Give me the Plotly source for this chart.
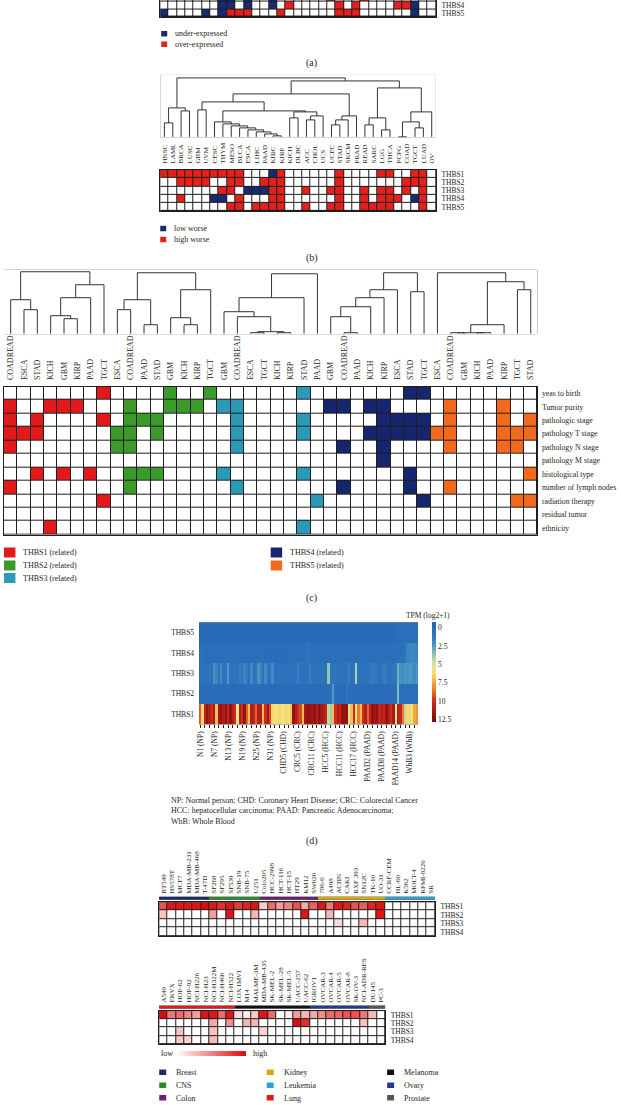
import plotly.graph_objects as go

W, H = 621, 1105
SERIF = "Liberation Serif"
INK = "#231f20"
GRID = "#1e1e1e"
NAVY = "#172a72"
RED = "#e3201b"

# ---------------- data ----------------
# (a) differential expression (1 = under, 2 = over)
a_rows = ["THBS3", "THBS4", "THBS5"]
a_hits = {
    "THBS3": {7: 1, 8: 1, 10: 1, 13: 1, 20: 2, 24: 2},
    "THBS4": {7: 1, 8: 1, 10: 1, 13: 1, 15: 2, 21: 2, 23: 2, 28: 2, 29: 2, 30: 1},
    "THBS5": {0: 1, 5: 1, 7: 1, 8: 2, 9: 2, 10: 2, 14: 2, 21: 2, 22: 2, 23: 2, 30: 1},
}

# (b) survival (1 = low worse, 2 = high worse)
b_cancers = ["HNSC", "LAML", "BRCA", "LUSC", "GBM", "UVM", "CESC", "THYM", "MESO", "BLCA",
             "ESCA", "LIHC", "PAAD", "KIRC", "KIRP", "KICH", "DLBC", "ACC", "CHOL", "UCS",
             "UCEC", "STAD", "SKCM", "PRAD", "READ", "SARC", "LGG", "THCA", "PCPG", "COAD",
             "TGCT", "LUAD", "OV"]
b_genes = ["THBS1", "THBS2", "THBS3", "THBS4", "THBS5"]
b_hits = {
    "THBS1": {0: 2, 1: 2, 2: 2, 3: 2, 4: 2, 5: 2, 6: 2, 7: 2, 8: 2, 9: 2, 13: 1, 14: 2, 21: 2,
              26: 2, 27: 2, 30: 2, 31: 2},
    "THBS2": {2: 2, 3: 2, 4: 2, 5: 2, 8: 2, 9: 2, 12: 2, 13: 2, 14: 2, 21: 2, 29: 2, 30: 2, 31: 2},
    "THBS3": {7: 2, 8: 2, 10: 1, 11: 1, 12: 1, 13: 2, 14: 2, 17: 2, 20: 2, 21: 2, 24: 2, 26: 2,
              27: 2, 29: 2, 31: 2},
    "THBS4": {2: 2, 6: 1, 7: 1, 9: 2, 13: 2, 14: 2, 21: 2, 24: 2, 26: 2, 27: 2, 28: 2, 30: 1, 31: 2},
    "THBS5": {8: 2, 9: 2, 11: 2, 12: 2, 13: 2, 14: 2, 17: 2, 20: 2, 21: 2, 24: 2, 25: 2, 26: 2,
              27: 2, 31: 2},
}
# merges: (left, right, height in px)
b_tree = (((0, 1, 123), (2, 3, 111), 108),
          ((((4, 5, 110),
             ((6, (7, (8, (9, (10, (11, (12, (13, 14, 136), 134), 132), 130), 128), 126), 124), 122),
              ((15, 16, 118), ((17, 18, 120), 19, 116), 112), 111), 102),
            (((20, 21, 125), 22, 120), 23, 116), 94),
           (((24, 25, 125), (26, 27, 130), 118),
            (((28, 29, 137), (30, 31, 128), 122), 32, 112), 88), 81), 78)

# (c) clinical features
c_groups = ["THBS1", "THBS2", "THBS3", "THBS4", "THBS5"]
c_cancers = ["COADREAD", "ESCA", "STAD", "KICH", "GBM", "KIRP", "PAAD", "TGCT",
             "ESCA", "COADREAD", "PAAD", "STAD", "GBM", "KICH", "KIRP", "TGCT",
             "GBM", "COADREAD", "ESCA", "TGCT", "KICH", "KIRP", "STAD", "PAAD",
             "GBM", "COADREAD", "PAAD", "KICH", "KIRP", "ESCA", "STAD", "TGCT",
             "ESCA", "COADREAD", "GBM", "KICH", "PAAD", "KIRP", "TGCT", "STAD"]
c_rows = ["yeas to birth", "Tumor purity", "pathologic stage", "pathology T stage",
          "pathology N stage", "pathology M stage", "histological type",
          "number of lymph nodes", "radiation therapy", "residual tumor", "ethnicity"]
c_hits = [
    [7, 12, 15, 22, 30, 31],
    [0, 3, 4, 5, 9, 12, 13, 14, 16, 17, 24, 25, 27, 28, 33, 37],
    [0, 2, 7, 9, 10, 11, 17, 22, 28, 29, 30, 31, 33, 37, 39],
    [0, 1, 2, 8, 9, 11, 17, 22, 27, 28, 29, 30, 31, 32, 33, 37, 38, 39],
    [0, 8, 9, 17, 25, 28, 33, 37, 38],
    [28],
    [2, 4, 6, 9, 10, 11, 16, 22, 30, 39],
    [0, 9, 17, 25, 30, 33],
    [7, 23, 31, 38, 39],
    [],
    [3, 22],
]
c_trees = [
    ((0, (1, 2, 310), 300), (((3, (4, 5, 319), 316), 6, 298), 7, 285), 272),
    (((8, 9, 310), (10, 11, 325), 300), ((12, (13, 14, 325), 318), 15, 290), 273),
    ((((16, (17, ((18, 19, 333), (20, 21, 333), 332), 317), 312), 22, 298), 23, 274)),
    (((((24, (25, 26, 333), 317), 27, 307), 28, 298), 29, 290), (30, 31, 292), 273),
    (32, (((((33, 34, 333), (35, 36, 333), 333), 37, 325), (38, 39, 290), 282)), 273),
]
c_colors = ["#e31a1c", "#3c9a2b", "#2b9ab6", "#16266e", "#f36a1c"]

# (d) expression, TPM log2(x+1)
d_genes = ["THBS5", "THBS4", "THBS3", "THBS2", "THBS1"]
d_thbs1 = [9.0, 6.5, 10.5, 12.0, 11.0, 10.0, 11.5, 7.0, 11.5, 12.0,
           11.0, 12.0, 10.5, 12.0, 11.0, 10.0, 5.5, 11.0, 10.0, 12.0,
           9.0, 7.0, 11.0, 10.5, 9.0, 11.0, 11.0, 7.0, 10.0, 11.5,
           9.5, 6.5, 6.0, 6.2, 6.5, 5.8, 6.0, 6.5, 6.2, 6.8,
           12.0, 11.0, 10.0, 9.5, 7.0, 11.5, 12.0, 12.0, 11.5, 12.0,
           11.0, 12.0, 11.5, 11.0, 10.5, 4.5, 4.0, 7.0, 10.0, 11.0,
           10.5, 12.0, 12.0, 12.0, 5.0, 7.0, 10.0, 5.5, 8.5, 7.0,
           10.0, 11.0, 9.0, 10.5, 12.0, 11.5, 12.0, 10.5, 11.0, 10.5,
           12.0, 11.0, 10.0, 11.5, 5.5, 11.0, 10.5, 8.5, 4.5, 6.5,
           6.5, 6.0, 7.5, 8.0]
d_thbs2 = [0.3, 0.4, 0.3, 0.3, 0.4, 0.3, 0.5, 0.3, 0.3, 0.4,
           0.3, 0.3, 0.4, 0.3, 0.3, 0.3, 0.4, 0.3, 0.3, 0.3,
           0.4, 0.3, 0.3, 0.3, 0.3, 0.4, 0.3, 0.3, 0.3, 0.3,
           0.3, 0.3, 0.2, 0.2, 0.2, 0.3, 0.2, 0.3, 0.3, 0.3,
           0.4, 0.3, 0.3, 0.3, 0.3, 0.3, 0.4, 0.3, 0.3, 0.3,
           0.3, 0.3, 0.3, 0.4, 0.3, 0.6, 0.5, 2.5, 0.4, 0.3,
           0.3, 0.3, 0.4, 1.2, 0.5, 0.4, 0.3, 0.6, 0.3, 0.3,
           0.3, 0.4, 0.3, 0.3, 0.4, 0.3, 0.3, 0.3, 0.4, 0.3,
           0.3, 0.4, 0.3, 0.3, 0.5, 3.5, 0.6, 0.5, 0.6, 0.5,
           0.5, 0.6, 0.5, 0.5]
d_thbs3 = [0.9, 1.0, 0.9, 0.8, 1.2, 1.0, 2.2, 1.8, 1.0, 2.0,
           1.0, 0.9, 2.5, 1.0, 0.9, 1.2, 1.0, 1.6, 1.0, 1.8,
           1.5, 1.0, 2.0, 1.1, 0.9, 2.2, 1.8, 1.0, 2.0, 1.0,
           0.9, 2.0, 0.8, 0.8, 0.9, 0.8, 0.9, 1.0, 0.9, 0.8,
           0.9, 1.0, 1.6, 0.9, 1.0, 0.9, 1.0, 1.6, 0.9, 1.0,
           0.9, 1.0, 0.9, 1.1, 1.0, 3.8, 1.2, 1.0, 0.9, 1.0,
           1.0, 0.9, 1.0, 1.1, 1.6, 1.0, 1.0, 4.2, 1.0, 0.9,
           1.0, 1.2, 1.0, 1.3, 1.5, 1.4, 1.2, 1.0, 1.1, 1.6,
           1.2, 1.0, 1.1, 1.2, 1.3, 3.0, 2.2, 2.0, 2.4, 2.2,
           2.5, 2.2, 2.0, 2.3]
d_thbs4 = [0.5, 1.0, 0.5, 0.4, 0.5, 0.5, 0.6, 0.5, 0.4, 0.5,
           0.5, 1.0, 0.5, 0.5, 0.4, 0.5, 0.5, 0.6, 0.5, 0.5,
           0.5, 0.4, 0.5, 0.5, 0.5, 0.6, 0.5, 0.5, 0.4, 0.5,
           0.4, 0.4, 0.3, 0.3, 0.3, 0.4, 0.3, 0.4, 0.4, 0.4,
           0.5, 0.5, 0.5, 0.4, 0.5, 0.5, 1.2, 0.5, 0.5, 0.4,
           0.5, 0.5, 0.4, 0.5, 0.5, 0.6, 0.5, 0.7, 0.5, 0.5,
           0.5, 0.4, 0.5, 0.6, 0.5, 0.5, 0.5, 0.6, 0.5, 0.5,
           0.5, 0.5, 0.6, 0.5, 0.5, 0.5, 0.6, 0.5, 0.5, 0.6,
           0.5, 0.6, 0.5, 0.5, 0.7, 0.8, 0.7, 0.8, 1.0, 1.8,
           1.8, 1.9, 1.8, 1.7]
d_thbs5 = [0.1, 0.2, 0.1, 0.1, 0.1, 0.1, 0.2, 0.1, 0.1, 0.1,
           0.1, 0.1, 0.1, 0.1, 0.1, 0.1, 0.1, 0.1, 0.1, 0.1,
           0.1, 0.1, 0.1, 0.1, 0.1, 0.1, 0.1, 0.1, 0.1, 0.1,
           0.1, 0.1, 0.1, 0.1, 0.1, 0.1, 0.1, 0.1, 0.1, 0.1,
           0.1, 0.1, 0.1, 0.1, 0.1, 0.1, 0.1, 0.1, 0.1, 0.1,
           0.1, 0.1, 0.1, 0.1, 0.1, 0.1, 0.1, 0.1, 0.1, 0.1,
           0.1, 0.1, 0.1, 0.1, 0.1, 0.1, 0.1, 0.1, 0.1, 0.1,
           0.1, 0.1, 0.1, 0.1, 0.1, 0.1, 0.1, 0.1, 0.1, 0.1,
           0.1, 0.1, 0.2, 0.2, 0.3, 0.3, 0.4, 0.5, 0.5, 0.6,
           0.6, 0.6, 0.5, 0.6]
d_tick_pos = [0, 6, 12, 18, 24, 30, 36, 42, 48, 54, 60, 66, 72, 78, 84, 90]
d_tick_txt = ["N1 (NP)", "N7 (NP)", "N13 (NP)", "N19 (NP)", "N25 (NP)", "N31 (NP)",
              "CHD5 (CHD)", "CRC5 (CRC)", "CRC11 (CRC)", "HCC5 (HCC)", "HCC11 (HCC)",
              "HCC17 (HCC)", "PAAD2 (PAAD)", "PAAD8 (PAAD)", "PAAD14 (PAAD)", "WhB3 (WhB)"]
d_cb_vals = [0, 2.5, 5, 7.5, 10, 12.5]

# (e) cell lines
tissues = ["Breast", "CNS", "Colon", "Kidney", "Leukemia", "Lung", "Melanoma", "Ovary", "Prostate"]
tissue_colors = ["#1a2a6c", "#2b8a2e", "#6b1f6e", "#d9a90c", "#2aa3d6", "#e31a1c",
                 "#111111", "#1f3a8f", "#555555"]
e1_lines = ["BT549", "HS578T", "MCF7", "MDA-MB-231", "MDA-MB-468", "T-47D",
            "SF268", "SF295", "SF539", "SNB-19", "SNB-75", "U251",
            "Colo205", "HCC-2998", "HCT-116", "HCT-15", "HT29", "KM12", "SW620",
            "786-0", "A498", "ACHN", "CAKI", "RXF 393", "SN12C", "TK-10", "UO-31",
            "CCRF-CEM", "HL-60", "K562", "MOLT-4", "RPMI-8226", "SR"]
e1_tissue = [0] * 6 + [1] * 6 + [2] * 7 + [3] * 8 + [4] * 6
e2_lines = ["A549", "EKVX", "HOP-62", "HOP-92", "NCI-H226", "NCI-H23", "NCI-H322M",
            "NCI-H460", "NCI-H522", "LOX IMVI", "M14", "MALME-3M", "MDA-MB-435",
            "SK-MEL-2", "SK-MEL-28", "SK-MEL-5", "UACC-257", "UACC-62", "IGROV1",
            "OVCAR-3", "OVCAR-4", "OVCAR-5", "OVCAR-8", "SK-OV-3", "NCI-ADR-RES",
            "DU145", "PC-3"]
e2_tissue = [5] * 9 + [6] * 9 + [7] * 7 + [8] * 2
e_genes = ["THBS1", "THBS2", "THBS3", "THBS4"]
e1_thbs1 = [0.7, 0.95, 0.95, 0.95, 0.95, 1.0, 0.95, 0.85, 0.95, 0.8, 0.9, 0.95,
            0.2, 0.6, 0.4, 0.5, 0.7, 0.35, 0.65,
            0.95, 0.55, 0.95, 0.9, 0.7, 0.65, 0.9, 0.95,
            0, 0, 0, 0, 0, 0]
e1_other = {"THBS2": {0: 0.25, 6: 0.4, 8: 0.95, 11: 0.3, 17: 0.95, 20: 0.3, 26: 0.95},
            "THBS3": {21: 0.15, 24: 0.3},
            "THBS4": {}}
e2_thbs1 = [1.0, 0.55, 0.6, 0.5, 0.4, 0.95, 0.95, 0.6, 0.95,
            0.15, 0.08, 0.22, 0.95, 0.6, 0, 0.07, 0.4, 0.3,
            0.35, 0.45, 0.6, 0.62, 0.7, 0.7, 0.55,
            0.28, 0]
e2_other = {"THBS2": {6: 0.35, 8: 0.45, 10: 0.3, 11: 0.3, 16: 1.0, 17: 0.85, 24: 0.25},
            "THBS3": {2: 0.25, 6: 0.25, 12: 0.18},
            "THBS4": {2: 0.22, 3: 0.18, 6: 0.28}}


# ---------------- helpers ----------------
def xdom(x0, x1):
    return [x0 / W, x1 / W]


def ydom(y0, y1):
    return [1 - y1 / H, 1 - y0 / H]


def steps(colors):
    n = len(colors)
    cs = []
    for i, c in enumerate(colors):
        cs += [[i / n, c], [(i + 1) / n, c]]
    return cs


def dendro(node, base, xs, ys):
    if isinstance(node, int):
        return node, base
    left, right, h = node
    xl, hl = dendro(left, base, xs, ys)
    xr, hr = dendro(right, base, xs, ys)
    xs += [xl, xl, xr, xr, None]
    ys += [hl, h, h, hr, None]
    return (xl + xr) / 2, h


def tf(size):
    return dict(family=SERIF, size=size, color=INK)


def ax(dom, rng, **kw):
    d = dict(domain=dom, range=rng, showgrid=False, zeroline=False, ticks="", fixedrange=True)
    d.update(kw)
    return d


fig = go.Figure()
lay = {}
shapes = []
notes = []

# ---------------- (a) ----------------
za = [[a_hits[g].get(k, 0) for k in range(33)] for g in a_rows]
fig.add_trace(go.Heatmap(z=za, x=list(range(33)), y=list(range(3)), colorscale=steps(["white", NAVY, RED]),
                         zmin=-0.5, zmax=2.5, showscale=False, xgap=1, ygap=1, xaxis="x", yaxis="y"))
lay["xaxis"] = ax(xdom(158, 435), [-0.5, 32.5], showticklabels=False, showline=True, linecolor=GRID, anchor="y")
lay["yaxis"] = ax(ydom(0, 17), [2.5, 0.23], tickvals=[1, 2], ticktext=a_rows[1:], side="right",
                  showline=True, mirror=True, linecolor=GRID, tickfont=tf(7.5), anchor="x",
                  ticklabelstandoff=3)

# ---------------- (b) ----------------
xs, ys = [], []
dendro(b_tree, 137, xs, ys)
fig.add_trace(go.Scatter(x=xs, y=ys, mode="lines", line=dict(color="#333333", width=1),
                         xaxis="x2", yaxis="y2", showlegend=False))
lay["xaxis2"] = ax(xdom(158, 435), [-0.5, 32.5], visible=False, anchor="y2")
lay["yaxis2"] = ax(ydom(75, 137.5), [137.5, 75], visible=False, anchor="x2")
shapes.append(dict(type="rect", xref="x2 domain", yref="y2 domain", x0=0, x1=1, y0=0, y1=1,
                   fillcolor="white", line_width=0, layer="below"))

zb = [[b_hits[g].get(k, 0) for k in range(33)] for g in b_genes]
fig.add_trace(go.Heatmap(z=zb, x=list(range(33)), y=list(range(5)), colorscale=steps(["white", NAVY, RED]),
                         zmin=-0.5, zmax=2.5, showscale=False, xgap=1, ygap=1, xaxis="x3", yaxis="y3"))
lay["xaxis3"] = ax(xdom(158, 435), [-0.5, 32.5], side="top", tickangle=-90, tickvals=list(range(33)),
                   ticktext=b_cancers, tickfont=tf(7), showline=True, mirror=True, linecolor=GRID,
                   anchor="y3", ticklabelstandoff=4)
lay["yaxis3"] = ax(ydom(170, 211.5), [4.5, -0.5], tickvals=list(range(5)), ticktext=b_genes, side="right",
                   tickfont=tf(7.5), showline=True, mirror=True, linecolor=GRID, anchor="x3",
                   ticklabelstandoff=3)

# ---------------- (c) ----------------
xs, ys = [], []
for t in c_trees:
    dendro(t, 334, xs, ys)
fig.add_trace(go.Scatter(x=xs, y=ys, mode="lines", line=dict(color="#333333", width=1),
                         xaxis="x4", yaxis="y4", showlegend=False))
lay["xaxis4"] = ax(xdom(1, 537), [-0.5, 39.5], visible=False, anchor="y4")
lay["yaxis4"] = ax(ydom(270, 334.5), [334.5, 270], visible=False, anchor="x4")
shapes.append(dict(type="rect", xref="x4 domain", yref="y4 domain", x0=0, x1=1, y0=0, y1=1,
                   fillcolor="white", line_width=0, layer="below"))

zc = [[(k // 8 + 1) if k in hits else 0 for k in range(40)] for hits in c_hits]
fig.add_trace(go.Heatmap(z=zc, x=list(range(40)), y=list(range(11)), colorscale=steps(["white"] + c_colors),
                         zmin=-0.5, zmax=5.5, showscale=False, xgap=1, ygap=1, xaxis="x5", yaxis="y5"))
lay["xaxis5"] = ax(xdom(1, 537), [-0.5, 39.5], side="top", tickangle=-90, tickvals=list(range(40)),
                   ticktext=c_cancers, tickfont=tf(8), showline=True, mirror=True, linecolor=GRID,
                   anchor="y5", ticklabelstandoff=4)
lay["yaxis5"] = ax(ydom(387, 535), [10.5, -0.5], tickvals=list(range(11)), ticktext=c_rows, side="right",
                   tickfont=tf(7.8), showline=True, mirror=True, linecolor=GRID, anchor="x5",
                   ticklabelstandoff=2)

# ---------------- (d) ----------------
zd = [[-v for v in row] for row in [d_thbs5, d_thbs4, d_thbs3, d_thbs2, d_thbs1]]
vmin, vmax = -0.7, 12.9
stops = [(12.9, "#7a0808"), (12.0, "#931212"), (10.0, "#cf2c1f"), (8.5, "#ec7b2e"), (7.5, "#f4a83e"),
         (6.3, "#f5e07a"), (5.0, "#d6e69c"), (3.6, "#86c2b4"), (2.5, "#4c9bc4"), (1.3, "#2f76be"),
         (-0.7, "#2462b3")]
cs_d = [[(vmax - v) / (vmax - vmin), c] for v, c in stops]
fig.add_trace(go.Heatmap(z=zd, x=list(range(94)), y=list(range(5)), coloraxis="coloraxis",
                         xaxis="x6", yaxis="y6"))
lay["coloraxis"] = dict(colorscale=cs_d, cmin=-vmax, cmax=-vmin,
                        colorbar=dict(x=431 / W, xanchor="left", y=1 - 723 / H, yanchor="bottom",
                                      len=100 / H, lenmode="fraction", thickness=4, xpad=0, ypad=0,
                                      outlinewidth=0, ticks="", tickvals=[-v for v in d_cb_vals],
                                      ticktext=["0", "2.5", "5", "7.5", "10", "12.5"],
                                      tickfont=tf(7.5), ticklabelposition="outside"))
lay["xaxis6"] = ax(xdom(197, 417), [-0.5, 93.5], tickvals=d_tick_pos, ticktext=d_tick_txt,
                   tickangle=-90, tickfont=tf(7.5), ticks="outside", ticklen=3, tickcolor=INK,
                   tickwidth=1, anchor="y6",
                   minor=dict(tickmode="linear", tick0=0, dtick=2, ticks="outside", ticklen=3,
                              tickcolor=INK, showgrid=False))
lay["yaxis6"] = ax(ydom(623, 725), [4.5, -0.5], tickvals=list(range(5)), ticktext=d_genes,
                   tickfont=tf(7.5), anchor="x6", ticklabelstandoff=4)

# ---------------- (e) ----------------
e_scale = [[0, "#ffffff"], [1, "#de0a0a"]]
blocks = [
    (e1_lines, e1_tissue, [e1_thbs1] + [[e1_other[g].get(k, 0) for k in range(33)] for g in e_genes[1:]],
     434, 897.5, 903, 937, "7", "8"),
    (e2_lines, e2_tissue, [e2_thbs1] + [[e2_other[g].get(k, 0) for k in range(27)] for g in e_genes[1:]],
     384, 1006.5, 1012, 1045, "9", "10"),
]
for lines, tis, vals, xr, ys0, gy0, gy1, sa, ga in blocks:
    n = len(lines)
    fig.add_trace(go.Heatmap(z=[tis], x=list(range(n)), y=[0], colorscale=steps(tissue_colors),
                             zmin=-0.5, zmax=8.5, showscale=False, xaxis="x" + sa, yaxis="y" + sa))
    lay["xaxis" + sa] = ax(xdom(157, xr), [-0.5, n - 0.5], side="top", tickangle=-90,
                           tickvals=list(range(n)), ticktext=lines, tickfont=tf(7), anchor="y" + sa,
                           ticklabelstandoff=2)
    lay["yaxis" + sa] = ax(ydom(ys0, ys0 + 3), [-0.5, 0.5], visible=False, anchor="x" + sa)
    fig.add_trace(go.Heatmap(z=vals, x=list(range(n)), y=list(range(4)), coloraxis="coloraxis2",
                             xgap=1, ygap=1, xaxis="x" + ga, yaxis="y" + ga))
    lay["xaxis" + ga] = ax(xdom(157, xr), [-0.5, n - 0.5], showticklabels=False, showline=True,
                           mirror=True, linecolor=GRID, anchor="y" + ga)
    lay["yaxis" + ga] = ax(ydom(gy0, gy1), [3.5, -0.5], tickvals=list(range(4)), ticktext=e_genes,
                           side="right", tickfont=tf(7.5), showline=True, mirror=True, linecolor=GRID,
                           anchor="x" + ga, ticklabelstandoff=3)
lay["coloraxis2"] = dict(colorscale=e_scale, cmin=0, cmax=1,
                         colorbar=dict(orientation="h", x=174 / W, xanchor="left", y=1 - 1057 / H,
                                       yanchor="bottom", len=70 / W, lenmode="fraction", thickness=5,
                                       xpad=0, ypad=0, outlinewidth=0, showticklabels=False, ticks=""))


# ---------------- legends and captions ----------------
def swatch(x0, y0, w, h, color):
    shapes.append(dict(type="rect", xref="paper", yref="paper", x0=x0 / W, x1=(x0 + w) / W,
                       y0=1 - (y0 + h) / H, y1=1 - y0 / H, fillcolor=color, line_width=0))


def note(x, y, text, size=8, xanchor="left"):
    notes.append(dict(x=x / W, y=1 - y / H, xref="paper", yref="paper", text=text, showarrow=False,
                      xanchor=xanchor, yanchor="middle", font=tf(size), align="left"))


swatch(159, 31, 6, 5.5, NAVY)
note(171, 33.8, "under-expressed")
swatch(159, 41.5, 6, 5.5, RED)
note(171, 44.3, "over-expressed")
note(310, 63, "(a)", 10, "center")

swatch(158, 226, 6, 5.5, NAVY)
note(170, 228.8, "low worse")
swatch(158, 237, 6, 5.5, RED)
note(170, 239.8, "high worse")
note(310, 258, "(b)", 10, "center")

legend_pos = [(1, 548), (1, 561), (1, 573.5), (269, 548), (269, 561)]
for (lx, ly), g, c in zip(legend_pos, c_groups, c_colors):
    swatch(lx, ly, 11.5, 10, c)
    note(lx + 17, ly + 5.3, g + " (related)")
note(310, 599, "(c)", 10, "center")

note(403, 616, "TPM (log2+1)", 7.5)
note(167, 812, "NP: Normal person; CHD: Coronary Heart Disease; CRC: Colorectal Cancer<br>"
               "HCC: hepatocellular carcinoma; PAAD: Pancreatic Adenocarcinoma;<br>"
               "WhB: Whole Blood", 8)
note(310, 842, "(d)", 10, "center")

note(157, 1054.5, "low", 8)
note(249, 1054.5, "high", 8)
tissue_pos = [(157, 1073.5), (157, 1086.5), (157, 1099), (265, 1073.5), (265, 1086.5), (265, 1099),
              (386, 1073.5), (386, 1086.5), (386, 1099)]
for (lx, ly), name, c in zip(tissue_pos, tissues, tissue_colors):
    swatch(lx, ly - 3, 7, 5.5, c)
    note(lx + 15, ly, name, 8)

fig.update_layout(**lay)
fig.update_layout(width=W, height=H, margin=dict(l=0, r=0, t=0, b=0), paper_bgcolor="white",
                  plot_bgcolor=GRID, showlegend=False, shapes=shapes, annotations=notes,
                  font=dict(family=SERIF, color=INK))
# the page body has a default 8px margin; drop it so the figure sits at the window origin
fig.write_html("out.html", config={"displayModeBar": False},
               post_script="document.body.style.margin='0';"
                           "document.documentElement.style.overflow='hidden';"
                           "document.body.style.overflow='hidden';")
